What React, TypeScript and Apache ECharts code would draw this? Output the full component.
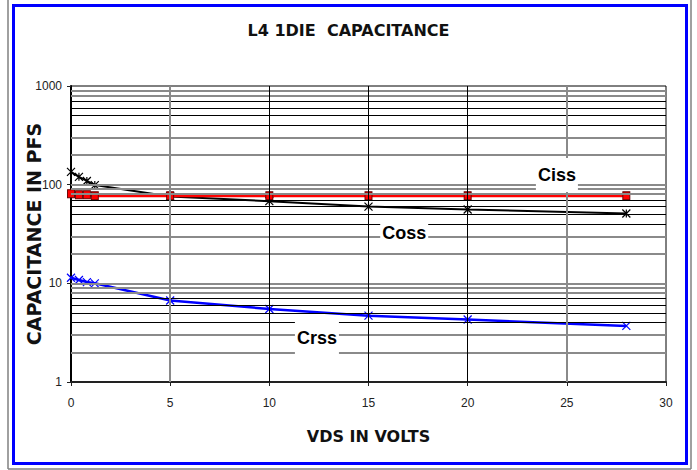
import React, { useEffect, useRef } from "react";
import * as echarts from "echarts";

const vdsVolts = [0, 0.4, 0.8, 1.2, 5, 10, 15, 20, 28];
const cissPf = [81, 79, 79, 77, 77, 77, 77, 77, 77];
const cossPf = [135, 120, 109, 99, 76, 68, 60, 56, 51];
const crssPf = [11.4, 10.8, 10.3, 10.0, 6.7, 5.5, 4.7, 4.3, 3.7];
const seriesNames = ["Ciss", "Coss", "Crss"];
const labelCoords = [
  [24.5, 125],
  [16.8, 32.3],
  [12.4, 2.76],
];
const hGridValues = [
  2, 3, 4, 5, 6, 7, 8, 9, 10, 20, 30, 40, 50, 60, 70, 80, 90, 100, 200, 300, 400, 500, 600, 700, 800, 900,
];
const vGridValues = [5, 10, 15, 20, 25];
const grayHMantissa = [1, 2, 3, 8, 9];
const grayV = [5, 25];

const GRAY = { color: "#8a8a8a", width: 2 };
const BLACK = { color: "#000", width: 1 };

function mantissa(v: number) {
  return Math.round(v / Math.pow(10, Math.floor(Math.log10(v) + 1e-9)));
}

export default function App() {
  const ref = useRef<HTMLDivElement>(null);
  useEffect(() => {
    if (!ref.current) return;
    const chart = echarts.init(ref.current, null, { renderer: "svg" });
    const mk = (data: number[]) => vdsVolts.map((x, i) => [x, data[i]]);
    const labelFor = (i: number) => ({
      symbol: "circle",
      symbolSize: 0,
      silent: true,
      data: [
        {
          coord: labelCoords[i],
          label: {
            show: true,
            position: "inside",
            formatter: seriesNames[i],
            color: "#000",
            fontSize: 18,
            fontWeight: "bold",
            fontFamily: "Liberation Sans, Arial, sans-serif",
            backgroundColor: "#fff",
            padding: [8, 2],
          },
        },
      ],
    });
    const gridLines = [
      ...hGridValues.map((v) => ({
        yAxis: v,
        lineStyle: { ...(grayHMantissa.includes(mantissa(v)) ? GRAY : BLACK), type: "solid" },
      })),
      ...vGridValues.map((v) => ({
        xAxis: v,
        lineStyle: { ...(grayV.includes(v) ? GRAY : BLACK), type: "solid" },
      })),
    ];
    const option: any = {
      animation: false,
      backgroundColor: "#fff",
      title: {
        text: "L4 1DIE  CAPACITANCE",
        left: "center",
        top: 17,
        textStyle: {
          fontFamily: "DejaVu Sans",
          fontWeight: "bold",
          fontSize: 16,
          color: "#111",
        },
      },
      grid: {
        left: 71,
        right: 31,
        top: 86,
        bottom: 88,
        show: true,
        borderColor: "#000",
        borderWidth: 1,
        backgroundColor: "transparent",
        containLabel: false,
        outerBoundsMode: "none",
      },
      xAxis: {
        type: "value",
        min: 0,
        max: 30,
        interval: 5,
        name: "VDS IN VOLTS",
        nameLocation: "middle",
        nameGap: 46,
        nameMoveOverlap: false,
        nameTextStyle: {
          fontFamily: "DejaVu Sans",
          fontWeight: "bold",
          fontSize: 16,
          color: "#111",
        },
        axisLine: { show: true, lineStyle: { color: "#222", width: 2 } },
        axisTick: { show: true, length: 4, lineStyle: { color: "#222" } },
        axisLabel: {
          margin: 15,
          fontSize: 12,
          color: "#222",
          fontFamily: "Liberation Sans, Arial, sans-serif",
        },
        splitLine: { show: false },
      },
      yAxis: {
        type: "log",
        logBase: 10,
        min: 1,
        max: 1000,
        name: "CAPACITANCE IN PFS",
        nameLocation: "middle",
        nameGap: 28,
        nameMoveOverlap: false,
        nameTextStyle: {
          fontFamily: "DejaVu Sans",
          fontWeight: "bold",
          fontSize: 19,
          color: "#111",
        },
        axisLine: { show: true, lineStyle: { color: "#000", width: 2 } },
        axisTick: { show: true, length: 4, lineStyle: { color: "#222" } },
        axisLabel: {
          margin: 9,
          fontSize: 12,
          color: "#222",
          fontFamily: "Liberation Sans, Arial, sans-serif",
          formatter: (v: number) => String(Math.round(v)),
        },
        splitLine: { show: false },
        minorTick: { show: false },
      },
      graphic: [
        { type: "line", shape: { x1: 8, y1: 0, x2: 8, y2: 469 }, style: { stroke: "#808080", lineWidth: 1.5 } },
        { type: "line", shape: { x1: 8, y1: 469, x2: 691, y2: 469 }, style: { stroke: "#808080", lineWidth: 1.5 } },
        { type: "line", shape: { x1: 691, y1: 0, x2: 691, y2: 469 }, style: { stroke: "#808080", lineWidth: 1.5 } },
        {
          type: "rect",
          shape: { x: 13.5, y: 5.5, width: 673, height: 458 },
          style: { fill: "none", stroke: "#0000ff", lineWidth: 3 },
        },
      ],
      series: [
        {
          type: "line",
          name: "grid",
          data: [],
          z: 1,
          silent: true,
          markLine: {
            silent: true,
            symbol: "none",
            label: { show: false },
            animation: false,
            data: gridLines,
          },
        },
        {
          type: "line",
          name: seriesNames[1],
          data: mk(cossPf),
          z: 3,
          symbol: "path://M0,0L10,10M10,0L0,10M5,0L5,10",
          symbolSize: 8,
          showSymbol: true,
          lineStyle: { color: "#000", width: 2 },
          itemStyle: { color: "#000", borderColor: "#000", borderWidth: 1.2 },
          markPoint: labelFor(1),
        },
        {
          type: "line",
          name: seriesNames[0],
          data: mk(cissPf),
          z: 4,
          symbol: "rect",
          symbolSize: [7, 8],
          lineStyle: { color: "#ff0000", width: 3 },
          itemStyle: { color: "#ff0000", borderColor: "#660000", borderWidth: 1 },
          markPoint: labelFor(0),
        },
        {
          type: "line",
          name: seriesNames[2],
          data: mk(crssPf),
          z: 3,
          symbol: "path://M0,0L10,10M10,0L0,10",
          symbolSize: 8,
          lineStyle: { color: "#0000ff", width: 2.5 },
          itemStyle: { color: "#0000ff", borderColor: "#0000ff", borderWidth: 1.2 },
          markPoint: labelFor(2),
        },
      ],
    };
    chart.setOption(option);
    return () => chart.dispose();
  }, []);
  return (
    <div
      ref={ref}
      style={{ position: "absolute", left: 0, top: 0, width: 697, height: 470 }}
    />
  );
}
